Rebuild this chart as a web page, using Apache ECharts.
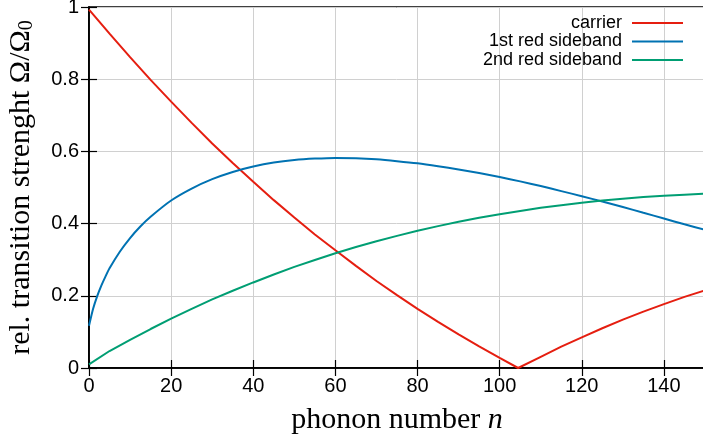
<!DOCTYPE html>
<html>
<head>
<meta charset="utf-8">
<script src="https://cdn.jsdelivr.net/npm/echarts@6/dist/echarts.min.js"></script>
<style>html,body{margin:0;padding:0;background:#fff;overflow:hidden}#c{width:703px;height:442px}</style>
</head>
<body>
<div id="c"></div>
<script>
// phonon numbers sampled for each curve
const nCarrier = [0,5,10,15,20,25,30,35,40,45,50,55,60,65,70,75,80,85,90,95,100,104.5,110,115,120,125,130,135,140,145,150];
const carrier  = [0.993,0.926,0.861,0.798,0.738,0.679,0.622,0.568,0.516,0.465,0.417,0.370,0.326,0.283,0.241,0.202,0.164,0.128,0.093,0.060,0.028,0.0,0.031,0.059,0.085,0.110,0.134,0.156,0.177,0.197,0.215];

const nFirst = [0,1,2,3,4,5,7.5,10,12.5,15,20,25,30,35,40,45,50,55,60,65,70,75,80,85,90,95,100,105,110,115,120,125,130,135,140,145,150];
const firstRed = [0.117,0.164,0.199,0.228,0.253,0.276,0.322,0.360,0.392,0.419,0.464,0.497,0.523,0.543,0.558,0.569,0.576,0.580,0.582,0.581,0.578,0.573,0.567,0.559,0.550,0.540,0.529,0.517,0.504,0.490,0.476,0.461,0.446,0.430,0.414,0.398,0.383];

const nSecond = [0,5,10,15,20,25,30,35,40,45,50,55,60,65,70,75,80,85,90,95,100,105,110,115,120,125,130,135,140,145,150];
const secondRed = [0.010,0.047,0.078,0.108,0.137,0.164,0.190,0.214,0.237,0.259,0.280,0.299,0.318,0.335,0.351,0.366,0.380,0.393,0.405,0.416,0.426,0.435,0.444,0.451,0.458,0.464,0.469,0.474,0.477,0.480,0.483];

const seriesNames = ['carrier','1st red sideband','2nd red sideband'];
const colors = ['#e51e10','#0072b2','#009e73'];
const xTicks = [0,20,40,60,80,100,120,140];
const yTicks = [0,0.2,0.4,0.6,0.8,1];

function pairs(xs, ys){ return xs.map((x,i)=>[x, ys[i]]); }

const chart = echarts.init(document.getElementById('c'), null, {renderer:'canvas'});
const sans = 'Liberation Sans, Arial, sans-serif';
const serif = 'Liberation Serif, Times New Roman, DejaVu Serif, serif';

const baseAxisLine = {show:true, lineStyle:{color:'#000', width:1.5}};
const tick = {show:true, inside:true, length:8, lineStyle:{color:'#000', width:1.2}};

const option = {
  animation:false,
  backgroundColor:'#fff',
  grid:{left:89, width:616, top:7, height:361, show:true, borderColor:'#000', borderWidth:1.5,
        containLabel:false, outerBoundsMode:'none'},
  legend:{
    orient:'vertical', right:20, top:14, padding:0, itemGap:0.5,
    align:'right', icon:'rect', itemWidth:51, itemHeight:2,
    textStyle:{fontFamily:sans, fontSize:18, color:'#000', lineHeight:18, padding:[0,5,0,0]},
    data: seriesNames
  },
  xAxis:[{
    type:'value', min:0, max:150, interval:20, position:'bottom',
    axisLine:baseAxisLine, axisTick:tick,
    axisLabel:{fontFamily:sans, fontSize:20, color:'#000', margin:8,
      formatter:(v)=> xTicks.indexOf(v)>=0 ? String(v) : ''},
    splitLine:{show:true, lineStyle:{color:'#d0d0d0', width:1}},
    name:'{t|phonon number }{i|n}', nameLocation:'middle', nameGap:37,
    nameTextStyle:{rich:{
      t:{fontFamily:serif, fontSize:30, color:'#000'},
      i:{fontFamily:serif, fontSize:30, fontStyle:'italic', color:'#000'}
    }}
  },{
    type:'value', min:0, max:150, interval:20, position:'top',
    axisLine:baseAxisLine, axisTick:tick, axisLabel:{show:false}, splitLine:{show:false}
  }],
  yAxis:[{
    type:'value', min:0, max:1, interval:0.2, position:'left',
    axisLine:baseAxisLine, axisTick:tick,
    axisLabel:{fontFamily:sans, fontSize:20, color:'#000', margin:10,
      formatter:(v)=> String(v)},
    splitLine:{show:true, lineStyle:{color:'#d0d0d0', width:1}},
    name:'{t|rel. transition strenght Ω/Ω}{s|0}', nameLocation:'middle', nameGap:52,
    nameRotate:90,
    nameTextStyle:{rich:{
      t:{fontFamily:serif, fontSize:30, color:'#000', lineHeight:32},
      s:{fontFamily:serif, fontSize:20, color:'#000', verticalAlign:'bottom', lineHeight:20}
    }}
  },{
    type:'value', min:0, max:1, interval:0.2, position:'right',
    axisLine:baseAxisLine, axisTick:tick, axisLabel:{show:false}, splitLine:{show:false}
  }],
  series:[
    {name:seriesNames[0], type:'line', data:pairs(nCarrier, carrier), showSymbol:false, color:colors[0], lineStyle:{width:2, color:colors[0]}, xAxisIndex:0, yAxisIndex:0, z:3},
    {name:seriesNames[1], type:'line', data:pairs(nFirst, firstRed), showSymbol:false, smooth:0.2, color:colors[1], lineStyle:{width:2, color:colors[1]}, xAxisIndex:0, yAxisIndex:0, z:3},
    {name:seriesNames[2], type:'line', data:pairs(nSecond, secondRed), showSymbol:false, color:colors[2], lineStyle:{width:2, color:colors[2]}, xAxisIndex:0, yAxisIndex:0, z:3}
  ]
};
chart.setOption(option);
</script>
</body>
</html>
